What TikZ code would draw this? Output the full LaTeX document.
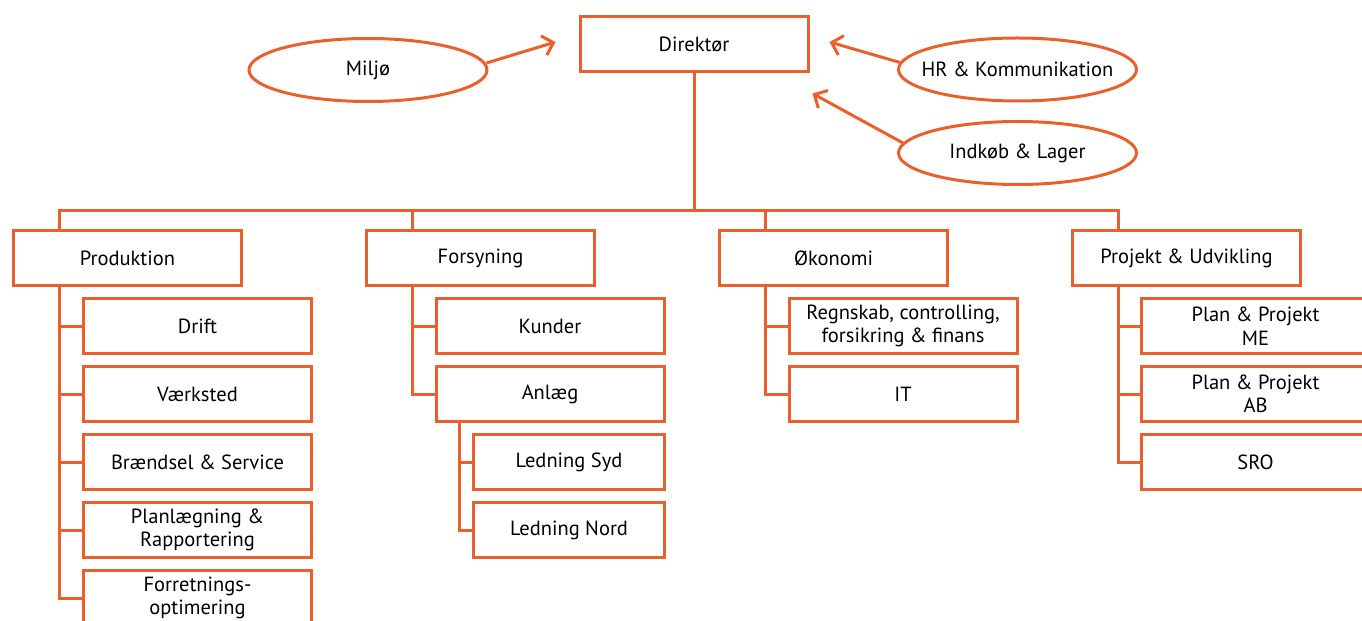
\documentclass[tikz,border=0pt]{standalone}
\usepackage{fontspec}
\setmainfont{PT Sans}
\usetikzlibrary{shapes.geometric, arrows.meta, positioning}
\definecolor{orgline}{RGB}{234,96,44}

\begin{document}
\begin{tikzpicture}[x=1bp, y=-1bp, node distance=10bp,
        % styles
        unit/.style = {
                rectangle, draw=orgline, line width=3bp,
                minimum width=228bp, minimum height=55bp, inner sep=0pt,
                align=center, font=\fontsize{20.5bp}{23.5bp}\selectfont
            },
        subunit/.style = {
                unit, minimum width=191bp
            },
        staff/.style = {
                ellipse, draw=orgline, line width=3bp,
                minimum width=238bp, minimum height=63bp, inner sep=0pt,
                font=\fontsize{20.5bp}{23.5bp}\selectfont
            },
        link/.style = {
                draw=orgline, line width=3bp
            },
        arrow/.style = {
                link, -{Straight Barb[length=10bp,width=20bp]}
            }]

    \useasboundingbox (0,0) rectangle (1362,621);

    \node (dir) [unit] at (694,44.5) {Direktør};
    \node (miljo) [staff] at (368,70) {\makebox[0pt]{Miljø}};
    \node (hr) [staff] at (1017.5,69.5) {\makebox[0pt]{HR \& Kommunikation}};
    \node (indkob) [staff] at (1017.5,153) {\makebox[0pt]{Indkøb \& Lager}};

    \node (prod) [unit] at (127.5,258) {Produktion};
    \node (fors) [unit, right=122bp of prod] {Forsyning};
    \node (okon) [unit, right=122bp of fors] {Økonomi};
    \node (proj) [unit, right=122bp of okon] {Projekt \& Udvikling};

    \node (drift) [unit, below=of prod, xshift=70bp] {Drift};
    \node (vaerk) [unit, below=of drift] {Værksted};
    \node (braend) [unit, below=of vaerk] {Brændsel \& Service};
    \node (planl) [unit, below=of braend] {Planlægning \&\\Rapportering};
    \node (forr) [unit, below=of planl] {Forretnings-\\optimering};

    \node (kunder) [unit, below=of fors, xshift=69.5bp] {Kunder};
    \node (anlaeg) [unit, below=of kunder] {Anlæg};
    \node (syd) [subunit, below=of anlaeg, xshift=19bp] {Ledning Syd};
    \node (nord) [subunit, below=of syd] {Ledning Nord};

    \node (regn) [unit, below=of okon, xshift=69.5bp] {Regnskab, controlling,\\forsikring \& finans};
    \node (it) [unit, below=of regn] {IT};

    \node (planme) [unit, below=of proj, xshift=69bp] {Plan \& Projekt\\ME};
    \node (planab) [unit, below=of planme] {Plan \& Projekt\\AB};
    \node (sro) [unit, below=of planab] {SRO};

    \coordinate (bus) at (694,210);
    \coordinate (tipM) at ([shift={(-23bp,2.5bp)}]dir.west);
    \coordinate (tipH) at ([shift={(20bp,2.5bp)}]dir.east);
    \coordinate (tipI) at ([shift={(3bp,-20bp)}]dir.south east);

    % arrows
    \draw [arrow] ([shift={(-2bp,7bp)}]miljo.east) -- (tipM);
    \draw [arrow] ([shift={(3bp,7bp)}]hr.west) -- (tipH);
    \draw [arrow] ([shift={(6bp,10bp)}]indkob.west) -- (tipI);

    % lines
    \foreach \u in {prod,fors,okon,proj}
        \draw [link] (dir.south) -- (bus) -| ([xshift=47.5bp]\u.north west);
    \foreach \u/\c in {prod/drift, prod/vaerk, prod/braend, prod/planl, prod/forr,
            fors/kunder, fors/anlaeg, okon/regn, okon/it,
            proj/planme, proj/planab, proj/sro}
        \draw [link] ([xshift=47.5bp]\u.south west) |- (\c.west);
    \foreach \c in {syd,nord}
        \draw [link] ([xshift=24.5bp]anlaeg.south west) |- (\c.west);
\end{tikzpicture}
\end{document}
